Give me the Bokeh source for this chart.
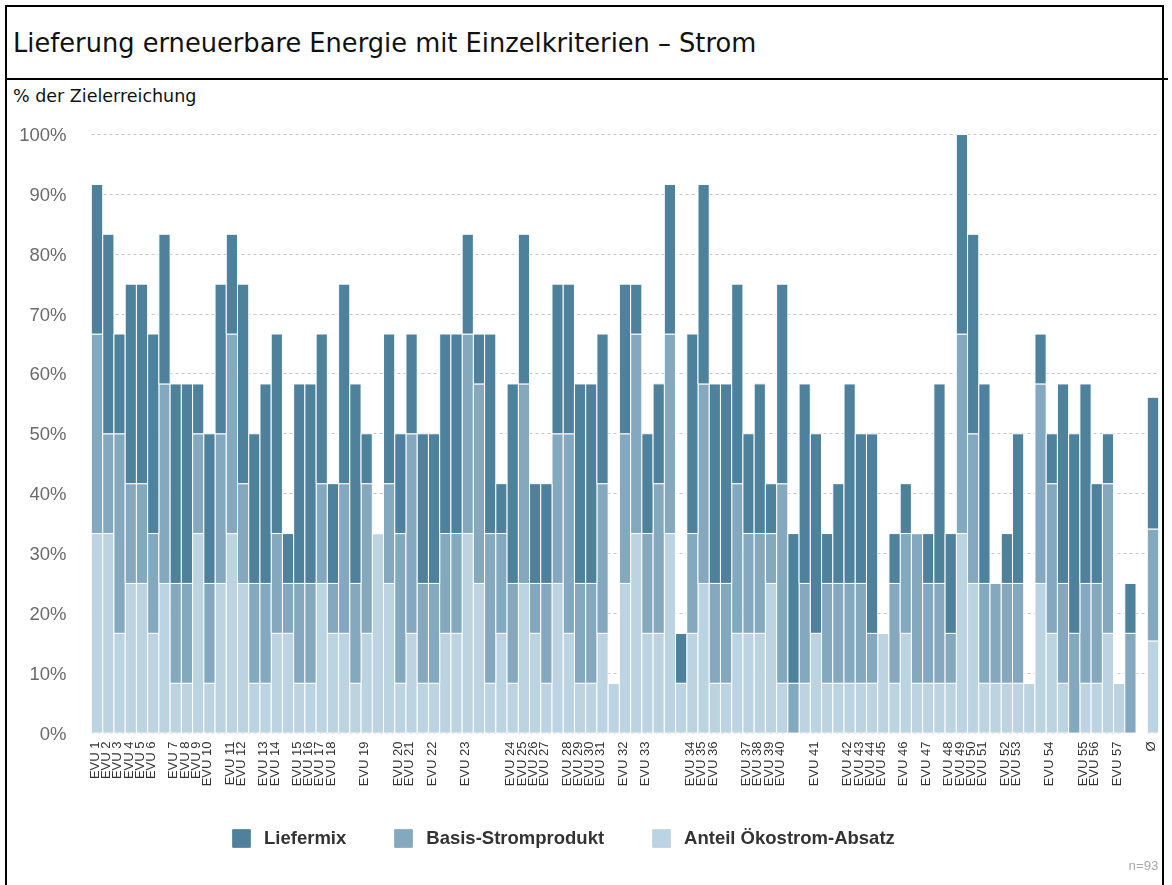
import math
from bokeh.plotting import figure
from bokeh.models import (ColumnDataSource, Range1d, FixedTicker, Legend, LegendItem,
                          Label, Div, PrintfTickFormatter)
from bokeh.layouts import column
from bokeh.embed import file_html
from bokeh.resources import INLINE

# ---------------- data ----------------
labels = ["EVU 1", "EVU 2", "EVU 3", "EVU 4", "EVU 5", "EVU 6", "", "EVU 7", "EVU 8", "EVU 9",
          "EVU 10", "", "EVU 11", "EVU 12", "", "EVU 13", "EVU 14", "", "EVU 15", "EVU 16",
          "EVU 17", "EVU 18", "", "", "EVU 19", "", "", "EVU 20", "EVU 21", "",
          "EVU 22", "", "", "EVU 23", "", "", "", "EVU 24", "EVU 25", "EVU 26",
          "EVU 27", "", "EVU 28", "EVU 29", "EVU 30", "EVU 31", "", "EVU 32", "", "EVU 33",
          "", "", "", "EVU 34", "EVU 35", "EVU 36", "", "", "EVU 37", "EVU 38",
          "EVU 39", "EVU 40", "", "", "EVU 41", "", "", "EVU 42", "EVU 43", "EVU 44",
          "EVU 45", "", "EVU 46", "", "EVU 47", "", "EVU 48", "EVU 49", "EVU 50", "EVU 51",
          "", "EVU 52", "EVU 53", "", "", "EVU 54", "", "", "EVU 55", "EVU 56",
          "", "EVU 57", "", "", "\u00d8"]

anteil = [33.33, 33.33, 16.67, 25, 25, 16.67, 25, 8.33, 8.33, 33.33,
          8.33, 25, 33.33, 25, 8.33, 8.33, 16.67, 16.67, 8.33, 8.33,
          25, 16.67, 16.67, 8.33, 16.67, 33.33, 25, 8.33, 16.67, 8.33,
          8.33, 16.67, 16.67, 33.33, 25, 8.33, 16.67, 8.33, 25, 16.67,
          8.33, 25, 16.67, 8.33, 8.33, 16.67, 8.33, 25, 33.33, 16.67,
          16.67, 33.33, 8.33, 16.67, 25, 8.33, 8.33, 16.67, 16.67, 16.67,
          25, 8.33, 0, 8.33, 16.67, 8.33, 8.33, 8.33, 8.33, 8.33,
          16.67, 8.33, 16.67, 8.33, 8.33, 8.33, 8.33, 33.33, 25, 8.33,
          8.33, 8.33, 8.33, 8.33, 25, 16.67, 8.33, 0, 8.33, 8.33,
          16.67, 8.33, 0, 0, 15.4]

basis = [33.33, 16.67, 33.33, 16.67, 16.67, 16.67, 33.33, 16.67, 16.67, 16.67,
         16.67, 25, 33.33, 16.67, 16.67, 16.67, 16.67, 8.33, 16.67, 16.67,
         16.67, 8.33, 25, 16.67, 25, 0, 16.67, 25, 33.33, 16.67,
         16.67, 16.67, 16.67, 33.33, 33.33, 25, 16.67, 16.67, 33.33, 8.33,
         16.67, 25, 33.33, 16.67, 16.67, 25, 0, 25, 33.33, 16.67,
         25, 33.33, 0, 16.67, 33.33, 16.67, 16.67, 25, 16.67, 16.67,
         8.33, 33.33, 8.33, 16.67, 0, 16.67, 16.67, 16.67, 16.67, 8.33,
         0, 16.67, 16.67, 25, 16.67, 16.67, 8.33, 33.33, 25, 16.67,
         16.67, 16.67, 16.67, 0, 33.33, 25, 16.67, 16.67, 16.67, 16.67,
         25, 0, 16.67, 0, 18.7]

liefermix = [25, 33.33, 16.67, 33.33, 33.33, 33.33, 25, 33.33, 33.33, 8.33,
             25, 25, 16.67, 33.33, 25, 33.33, 33.33, 8.33, 33.33, 33.33,
             25, 16.67, 33.33, 33.33, 8.33, 0, 25, 16.67, 16.67, 25,
             25, 33.33, 33.33, 16.67, 8.33, 33.33, 8.33, 33.33, 25, 16.67,
             16.67, 25, 25, 33.33, 33.33, 25, 0, 25, 8.33, 16.67,
             16.67, 25, 8.33, 33.33, 33.33, 33.33, 33.33, 33.33, 16.67, 25,
             8.33, 33.33, 25, 33.33, 33.33, 8.33, 16.67, 33.33, 25, 33.33,
             0, 8.33, 8.33, 0, 8.33, 33.33, 16.67, 33.33, 33.33, 33.33,
             0, 8.33, 25, 0, 8.33, 8.33, 33.33, 33.33, 33.33, 16.67,
             8.33, 0, 8.33, 0, 22.0]

series_names = ["Anteil \u00d6kostrom-Absatz", "Basis-Stromprodukt", "Liefermix"]
y_ticks = [0, 10, 20, 30, 40, 50, 60, 70, 80, 90, 100]
title_text = "Lieferung erneuerbare Energie mit Einzelkriterien \u2013 Strom"
subtitle_text = "% der Zielerreichung"
n_text = "n=93"

# ---------------- styles ----------------
C_LIEFER = "#4e829c"
C_BASIS = "#84a8bd"
C_ANTEIL = "#bcd3e1"
COLORS = [C_ANTEIL, C_BASIS, C_LIEFER]
LABEL_SHIFT = -0.25   # tick labels sit slightly left of the bar centre, as in the original

x = list(range(len(labels)))
src = ColumnDataSource(dict(x=x, anteil=anteil, basis=basis, liefermix=liefermix))

# ---------------- main chart ----------------
p = figure(frame_width=1067, frame_height=607,
           x_range=Range1d(-0.5, len(labels) - 0.5),
           y_range=Range1d(-0.4, 101),
           output_backend="svg", toolbar_location=None,
           min_border_left=91, min_border_right=8, min_border_top=8, min_border_bottom=57)
p.outline_line_color = None
p.border_fill_color = None

rs = p.vbar_stack(["anteil", "basis", "liefermix"], x="x", width=1.0, source=src,
                  color=COLORS, line_color="white", line_width=1)

p.yaxis.ticker = FixedTicker(ticks=y_ticks)
p.yaxis.formatter = PrintfTickFormatter(format="%d%%")
p.yaxis.axis_line_color = None
p.yaxis.major_tick_line_color = None
p.yaxis.major_tick_out = 0
p.yaxis.major_tick_in = 0
p.yaxis.minor_tick_line_color = None
p.yaxis.major_label_standoff = 25
p.yaxis.major_label_text_font = "Liberation Sans"
p.yaxis.major_label_text_font_size = "18.5px"
p.yaxis.major_label_text_color = "#6a6a6a"

tick_idx = [i for i, l in enumerate(labels) if l]
tick_pos = [i + LABEL_SHIFT for i in tick_idx]
p.xaxis.ticker = FixedTicker(ticks=tick_pos)
p.xaxis.major_label_overrides = {i + LABEL_SHIFT: labels[i] for i in tick_idx}
p.xaxis.major_label_orientation = math.pi / 2
p.xaxis.axis_line_color = None
p.xaxis.major_tick_line_color = None
p.xaxis.major_tick_out = 0
p.xaxis.major_tick_in = 0
p.xaxis.minor_tick_line_color = None
p.xaxis.major_label_standoff = 6
p.xaxis.major_label_text_font = "Liberation Sans"
p.xaxis.major_label_text_font_size = "13px"
p.xaxis.major_label_text_color = "#333333"

p.xgrid.grid_line_color = None
p.ygrid.ticker = FixedTicker(ticks=y_ticks)
p.ygrid.grid_line_color = "#c8c8c8"
p.ygrid.grid_line_dash = "3 3"
p.ygrid.grid_line_width = 1

# ---------------- legend strip (frame aligned with the chart frame) ----------------
q = figure(width=1166, height=85, x_range=Range1d(91, 1158), y_range=Range1d(0, 85),
           output_backend="svg", toolbar_location=None,
           min_border=0, min_border_left=0, min_border_right=0,
           min_border_top=0, min_border_bottom=0)
q.axis.visible = False
q.grid.visible = False
q.outline_line_color = None
q.border_fill_color = None
q.background_fill_color = None
nan = float("nan")
lr = [q.vbar(x=[nan], top=[nan], width=1, color=c, line_color=c, line_width=1)
      for c in COLORS]

legend = Legend(items=[LegendItem(label=series_names[2], renderers=[lr[2]]),
                       LegendItem(label=series_names[1], renderers=[lr[1]]),
                       LegendItem(label=series_names[0], renderers=[lr[0]])],
                orientation="horizontal", location=(139, 28),
                glyph_width=22, glyph_height=22, label_standoff=12, spacing=46,
                padding=0, margin=0, label_height=22,
                label_text_font="Liberation Sans", label_text_font_style="bold",
                label_text_font_size="18.5px", label_text_color="#333333",
                border_line_color=None, background_fill_alpha=0)
q.add_layout(legend)
q.add_layout(Label(x=1158, y=12, text=n_text, text_align="right",
                   text_baseline="middle", text_font="Liberation Sans",
                   text_font_size="13.3px", text_color="#a8a8a8"))

# ---------------- header with frame ----------------
head = Div(width=1166, height=110, text=(
    "<div style=\"position:fixed;left:5px;top:5px;width:1159px;height:950px;"
    "border:2px solid #000;pointer-events:none;\"></div>"
    "<div style=\"position:fixed;left:5px;top:78px;width:1163px;height:2px;"
    "background:#000;\"></div>"
    "<div style=\"height:70px;padding-top:3px;font-family:'DejaVu Sans';"
    "font-size:25.7px;line-height:70px;padding-left:8px;white-space:nowrap;color:#111;\">"
    + title_text + "</div>"
    "<div style=\"font-family:'DejaVu Sans';font-size:17.5px;padding-left:8px;margin-top:11px;"
    "line-height:20px;color:#111;white-space:nowrap;\">" + subtitle_text + "</div>"))

layout = column(head, p, q, spacing=0)

open("out.html", "w").write(file_html(layout, INLINE))
